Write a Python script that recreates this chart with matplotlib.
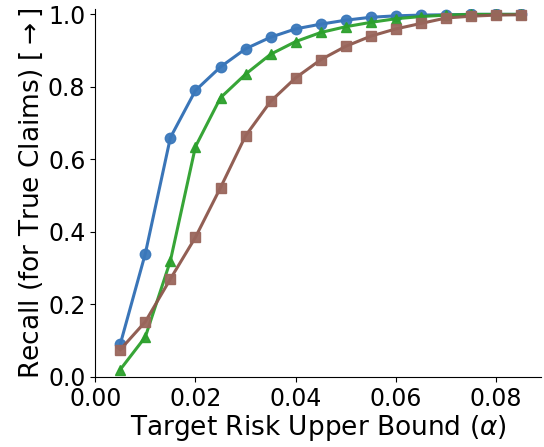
import numpy as np
import matplotlib.pyplot as plt

alphas = [0.005, 0.010, 0.015, 0.020, 0.025, 0.030, 0.035, 0.040, 0.045,
          0.050, 0.055, 0.060, 0.065, 0.070, 0.075, 0.080, 0.085]

recall_blue = [0.09, 0.34, 0.66, 0.79, 0.855, 0.905, 0.937, 0.96, 0.973,
               0.984, 0.992, 0.996, 0.998, 0.999, 1.0, 1.0, 1.0]
recall_green = [0.02, 0.11, 0.32, 0.635, 0.77, 0.835, 0.89, 0.925, 0.95,
                0.966, 0.978, 0.988, 0.994, 0.998, 1.0, 1.0, 1.0]
recall_brown = [0.075, 0.152, 0.27, 0.385, 0.522, 0.665, 0.76, 0.825, 0.875,
                0.912, 0.94, 0.96, 0.975, 0.99, 0.995, 0.998, 0.999]

plt.rcParams['font.size'] = 17

fig, ax = plt.subplots(figsize=(5.44, 4.47), dpi=100)
ax.plot(alphas, recall_blue, '-o', color='#2f6eb4', lw=2.2, ms=7.5, mfc='#3a78bb', mec='#3a78bb', alpha=0.95)
ax.plot(alphas, recall_green, '-^', color='#2ca02c', lw=2.2, ms=7.5, alpha=0.95)
ax.plot(alphas, recall_brown, '-s', color='#8c564b', lw=2.2, ms=7.5, mfc='#9a665c', mec='#9a665c', alpha=0.95)

ax.set_xlim(0, 0.089)
ax.set_ylim(0, 1.015)
ax.set_xticks([0.0, 0.02, 0.04, 0.06, 0.08])
ax.set_yticks([0.0, 0.2, 0.4, 0.6, 0.8, 1.0])
ax.spines['top'].set_visible(False)
ax.spines['right'].set_visible(False)
ax.set_xlabel(r'Target Risk Upper Bound ($\alpha$)', fontsize=19, labelpad=2)
ax.set_ylabel('Recall (for True Claims) [$\\rightarrow$]', fontsize=19, labelpad=2)

fig.subplots_adjust(left=0.175, right=0.995, bottom=0.157, top=0.98)
fig.savefig('out.png')
